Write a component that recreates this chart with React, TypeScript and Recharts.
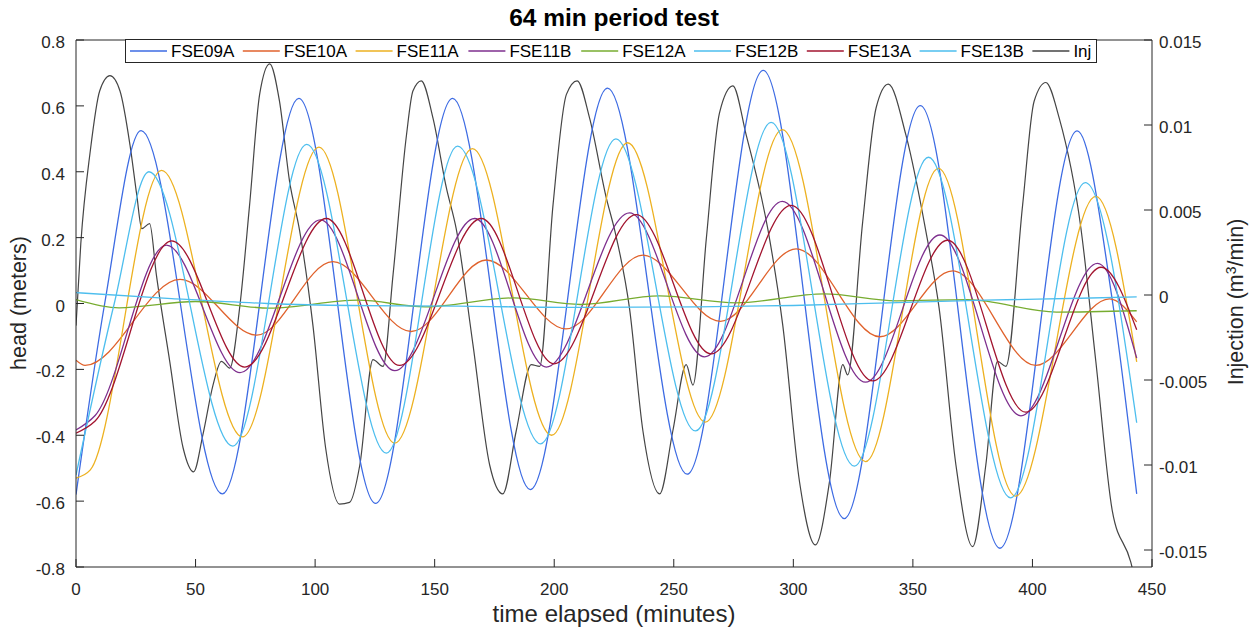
import React from "react";
import { LineChart, Line, XAxis, YAxis, ReferenceLine } from "recharts";

const timeTicks = [0, 50, 100, 150, 200, 250, 300, 350, 400, 450];
const headTicks = [-0.8, -0.6, -0.4, -0.2, 0, 0.2, 0.4, 0.6, 0.8];
const injTicks = [-0.015, -0.01, -0.005, 0, 0.005, 0.01, 0.015];

// head series (meters), each read at its own times (minutes)
const fse09aTime = [0, 12, 27.2, 61.2, 93.2, 125.3, 157.5, 190, 222.3, 255.6, 287.4, 321.3, 353.1, 386.4, 418.7, 433.6, 443.6];
const fse09aHead = [-0.58, 0.0, 0.525, -0.578, 0.623, -0.607, 0.623, -0.565, 0.654, -0.518, 0.708, -0.653, 0.601, -0.743, 0.524, 0.0, -0.578];

const fse10aTime = [0, 3.8, 43.5, 75.6, 107.4, 140.2, 171.6, 204.9, 237.1, 269.5, 301.2, 336.2, 366.6, 401.4, 432.2, 443.6];
const fse10aHead = [-0.172, -0.188, 0.073, -0.096, 0.127, -0.085, 0.132, -0.077, 0.147, -0.054, 0.166, -0.101, 0.099, -0.188, 0.014, -0.056];

const fse11aTime = [0, 6, 35.8, 69.6, 101.6, 133.3, 165.8, 198.9, 230.7, 263.2, 295.4, 330.2, 360.7, 392.9, 426.5, 443.6];
const fse11aHead = [-0.53, -0.505, 0.404, -0.405, 0.475, -0.424, 0.47, -0.4, 0.488, -0.36, 0.528, -0.48, 0.41, -0.585, 0.325, -0.177];

const fse11bTime = [0, 8, 37.8, 68.6, 102.2, 133.3, 166.7, 196.7, 231.5, 262.9, 295.4, 330.2, 361.3, 395.2, 427.2, 443.6];
const fse11bHead = [-0.384, -0.34, 0.177, -0.21, 0.254, -0.204, 0.258, -0.193, 0.275, -0.162, 0.31, -0.239, 0.208, -0.341, 0.122, -0.166];

const fse12aTime = [0, 18, 50, 81, 118, 146, 183, 211, 244, 276, 313, 343, 373, 410, 443.6];
const fse12aHead = [0.012, -0.013, 0.006, -0.014, 0.01, -0.01, 0.017, -0.003, 0.023, 0.002, 0.029, 0.008, 0.012, -0.026, -0.022];

const fse12bTime = [0, 16, 30.5, 65.6, 96.5, 129.8, 159.6, 194.3, 225.8, 259.1, 290.7, 325.5, 356.5, 390.9, 422.1, 443.6];
const fse12bHead = [-0.521, 0.0, 0.4, -0.433, 0.483, -0.454, 0.478, -0.426, 0.5, -0.387, 0.55, -0.494, 0.444, -0.59, 0.367, -0.362];

const fse13aTime = [0, 8, 40, 70.6, 104.7, 135.3, 169.5, 199.9, 234.3, 265.6, 299.1, 333.2, 364.5, 397.2, 428.7, 443.6];
const fse13aHead = [-0.394, -0.357, 0.19, -0.193, 0.258, -0.188, 0.258, -0.183, 0.27, -0.153, 0.298, -0.235, 0.192, -0.33, 0.11, -0.08];

const fse13bTime = [0, 40, 80, 115, 160, 210, 260, 300, 340, 380, 420, 443.6];
const fse13bHead = [0.033, 0.015, 0.0, -0.006, -0.008, -0.012, -0.01, -0.006, 0.002, 0.01, 0.016, 0.02];

// injection rate (m3/min), right axis
const injTime = [
  0, 2, 6, 9.9, 14.2, 18.4, 22.6, 25.4, 27.5, 30.8, 33.6, 39.2, 44.8, 49.2, 53.1, 57.3, 60.8, 64.3, 68.4, 72.6,
  76.8, 81, 85.1, 89.3, 93.5, 99.1, 104.4, 110.2, 114.4, 118.7, 124.2, 128.4, 132.6, 138.2, 140.9, 144.4, 149.3,
  154.9, 159, 166, 173, 178.5, 184.1, 190.4, 193.9, 199.5, 205.1, 209.6, 214.8, 221.8, 225.3, 231.5, 237.1, 244.1,
  249.6, 255.2, 258, 263.6, 269.1, 274.7, 280.3, 289.3, 295.6, 302.6, 309.2, 315.1, 320.7, 322.7, 329, 334.6,
  339.7, 347.1, 355.5, 361, 368, 375, 380.5, 385.4, 388.9, 395.9, 400.7, 405.6, 411.2, 420.2, 426.5, 433.4, 441.1,
  442.5,
];
const injRate = [
  -0.0018, 0.003, 0.0085, 0.012, 0.0129, 0.012, 0.0088, 0.0059, 0.0039, 0.0042, 0.0012, -0.0039, -0.009, -0.0104,
  -0.0082, -0.0053, -0.0039, -0.0043, -0.0008, 0.0053, 0.0118, 0.0136, 0.0114, 0.0067, 0.0038, -0.0018, -0.009,
  -0.0123, -0.0122, -0.01, -0.0038, -0.0042, 0.0012, 0.0094, 0.012, 0.0126, 0.0104, 0.0063, 0.0039, -0.0029, -0.01,
  -0.0117, -0.008, -0.0041, -0.0042, 0.0053, 0.0118, 0.0126, 0.0104, 0.0057, 0.0038, -0.0008, -0.008, -0.0117,
  -0.008, -0.0041, -0.0053, 0.0033, 0.0107, 0.0123, 0.0094, 0.0039, -0.0018, -0.011, -0.0147, -0.011, -0.0041,
  -0.0047, 0.0043, 0.011, 0.0124, 0.0094, 0.0037, -0.0008, -0.01, -0.0148, -0.01, -0.0039, -0.0042, 0.0053,
  0.0114, 0.0125, 0.0104, 0.004, -0.0039, -0.0127, -0.0157, -0.0165,
];

const toPoints = (ts: number[], vs: number[]) => ts.map((t, i) => ({ t, v: vs[i] }));

const headSeries = [
  { name: "FSE09A", color: "#3d6be3", data: toPoints(fse09aTime, fse09aHead) },
  { name: "FSE10A", color: "#e0622c", data: toPoints(fse10aTime, fse10aHead) },
  { name: "FSE11A", color: "#edb120", data: toPoints(fse11aTime, fse11aHead) },
  { name: "FSE11B", color: "#7e2f8e", data: toPoints(fse11bTime, fse11bHead) },
  { name: "FSE12A", color: "#77ac30", data: toPoints(fse12aTime, fse12aHead) },
  { name: "FSE12B", color: "#4dbeee", data: toPoints(fse12bTime, fse12bHead) },
  { name: "FSE13A", color: "#a2142f", data: toPoints(fse13aTime, fse13aHead) },
  { name: "FSE13B", color: "#4dbeee", data: toPoints(fse13bTime, fse13bHead) },
];
const injSeries = { name: "Inj", color: "#454545", data: toPoints(injTime, injRate) };
const legendItems = [...headSeries, injSeries];

const FONT = '"Liberation Sans", Arial, Helvetica, sans-serif';
const INK = "#262626";

const App: React.FC = () => {
  return (
    <div style={{ position: "relative", width: 1242, height: 626, fontFamily: FONT, color: INK }}>
      <LineChart width={1242} height={626} margin={{ top: 32, right: 0, bottom: 0, left: 0 }}>
        <XAxis
          type="number"
          dataKey="t"
          domain={[0, 450]}
          ticks={timeTicks}
          height={67}
          tickSize={-8}
          tickMargin={24}
          stroke={INK}
          tick={{ fill: INK, fontSize: 17, fontFamily: FONT }}
          allowDataOverflow
        />
        <YAxis
          yAxisId="left"
          domain={[-0.8, 0.8]}
          ticks={headTicks}
          width={68}
          tickSize={-8}
          tickMargin={19}
          stroke={INK}
          tick={{ fill: INK, fontSize: 17, fontFamily: FONT, dy: 2 }}
          allowDataOverflow
        />
        <YAxis
          yAxisId="right"
          orientation="right"
          domain={[-0.016, 0.015]}
          ticks={injTicks}
          width={98}
          tickSize={-8}
          tickMargin={15}
          stroke={INK}
          tick={{ fill: INK, fontSize: 17, fontFamily: FONT, dy: 2 }}
          allowDataOverflow
        />
        <ReferenceLine yAxisId="left" y={0.8} stroke={INK} strokeWidth={1} />
        <Line
          yAxisId="right"
          data={injSeries.data}
          dataKey="v"
          name={injSeries.name}
          type="monotone"
          stroke={injSeries.color}
          strokeWidth={1.2}
          dot={false}
          isAnimationActive={false}
        />
        {headSeries.map((s) => (
          <Line
            key={s.name}
            yAxisId="left"
            data={s.data}
            dataKey="v"
            name={s.name}
            type="monotone"
            stroke={s.color}
            strokeWidth={1.3}
            dot={false}
            isAnimationActive={false}
          />
        ))}
      </LineChart>

      {/* legend box along the top of the axes */}
      <svg
        width={972}
        height={24}
        style={{ position: "absolute", left: 117, top: 31, overflow: "visible" }}
      >
        <rect x={0.5} y={0.5} width={971} height={23} fill="#fff" stroke={INK} strokeWidth={1} />
        {legendItems.map((s, i) => {
          const x0 = 5 + i * 112.8;
          return (
            <g key={s.name}>
              <line x1={x0} x2={x0 + 37} y1={12} y2={12} stroke={s.color} strokeWidth={1.3} />
              <text x={x0 + 41} y={12} dy="0.36em" fontSize={17} fontFamily={FONT} fill="#000">
                {s.name}
              </text>
            </g>
          );
        })}
      </svg>

      <div
        style={{
          position: "absolute",
          left: 606,
          top: 10,
          transform: "translate(-50%, -50%)",
          fontSize: 24.5,
          fontWeight: "bold",
          lineHeight: 1,
          whiteSpace: "nowrap",
          color: "#000",
        }}
      >
        64 min period test
      </div>
      <div
        style={{
          position: "absolute",
          left: 606,
          top: 606,
          transform: "translate(-50%, -50%)",
          fontSize: 24,
          lineHeight: 1,
          whiteSpace: "nowrap",
        }}
      >
        time elapsed (minutes)
      </div>
      <div
        style={{
          position: "absolute",
          left: 12,
          top: 295,
          transform: "translate(-50%, -50%) rotate(-90deg)",
          fontSize: 21.5,
          lineHeight: 1,
          whiteSpace: "nowrap",
        }}
      >
        head (meters)
      </div>
      <div
        style={{
          position: "absolute",
          left: 1229,
          top: 294,
          transform: "translate(-50%, -50%) rotate(-90deg)",
          fontSize: 21.5,
          lineHeight: 1,
          whiteSpace: "nowrap",
        }}
      >
        Injection (m<sup style={{ fontSize: "0.65em", verticalAlign: "0.55em", lineHeight: 0 }}>3</sup>/min)
      </div>
    </div>
  );
};

export default App;
